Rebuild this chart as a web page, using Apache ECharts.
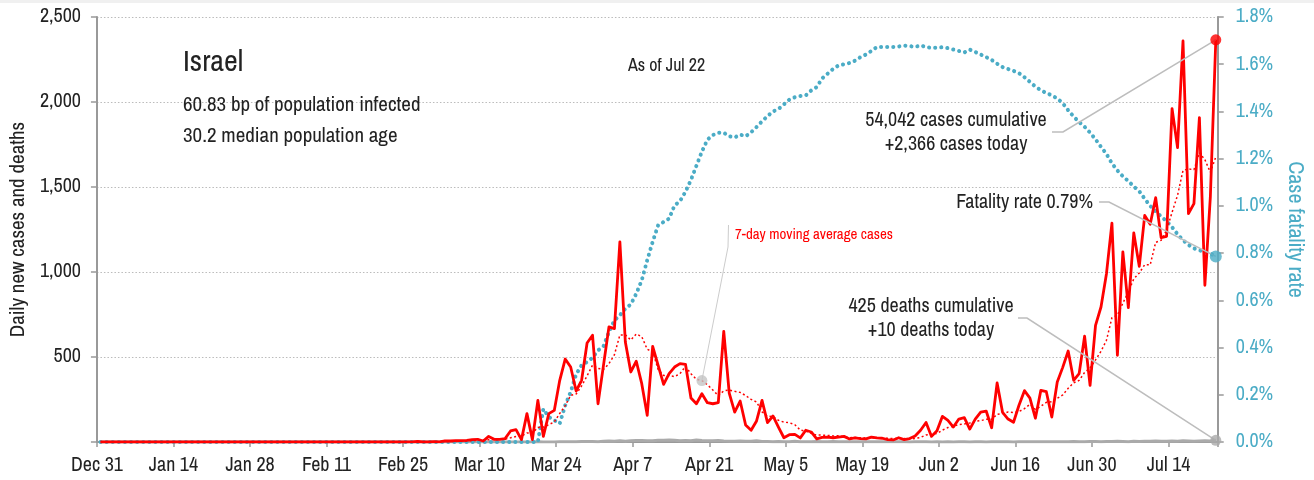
<!DOCTYPE html>
<html>
<head>
<meta charset="utf-8">
<title>Israel: daily new cases, deaths and case fatality rate</title>
<script src="https://cdn.jsdelivr.net/npm/echarts@6/dist/echarts.min.js"></script>
<style>
  html, body { margin: 0; padding: 0; background: #ffffff; }
  #chart { width: 1314px; height: 480px; }
</style>
</head>
<body>
<div id="chart"></div>
<script>
// ---- data: one entry per day, Dec 31 (index 0) to Jul 22 (index 204) ----
const tickLabels = ['Dec 31', 'Jan 14', 'Jan 28', 'Feb 11', 'Feb 25', 'Mar 10', 'Mar 24',
  'Apr 7', 'Apr 21', 'May 5', 'May 19', 'Jun 2', 'Jun 16', 'Jun 30', 'Jul 14'];

const dailyCases = [
  0,0,0,0,0,0,0,0,0,0, 0,0,0,0,0,0,0,0,0,0, 0,0,0,0,0,0,0,0,0,0,
  0,0,0,0,0,0,0,0,0,0, 0,0,0,0,0,0,0,0,0,0, 0,0,
  1,0,1,0,0,1,3,0,0,2,1,
  6,6,8,8,10,14,16,6,33,16,16,20,65,73,14,167,14,
  245,33,167,186,363,488,441,300,363,582,628,225,
  451,677,667,1177,588,412,475,343,157,563,451,339,402,441,461,457,259,225,284,231,225,231,651,288,176,241,100,
  69,124,245,114,153,88,25,43,45,24,69,59,18,27,29,25,29,33,18,24,20,18,29,24,22,14,12,25,14,20,35,
  69,115,33,66,151,127,88,135,143,76,135,176,182,84,347,174,135,116,216,302,258,140,304,296,147,353,439,
  535,363,402,622,333,686,794,990,1288,510,1118,790,1230,1033,1333,1281,1437,1202,1210,1961,1732,2359,1343,1402,1908,922,1440,2366
];

const dailyDeaths = [
  0,0,0,0,0,0,0,0,0,0, 0,0,0,0,0,0,0,0,0,0, 0,0,0,0,0,0,0,0,0,0,
  0,0,0,0,0,0,0,0,0,0, 0,0,0,0,0,0,0,0,0,0, 0,0,0,0,0,0,0,0,0,0,
  0,0,0,0,0,0,0,0,0,0, 0,0,0,0,0,0,0,0,0,0,
  1,0,0,0,1,1,2,1,3,3,3,1,
  4,6,4,8,5,7,9,9,8,7,10,11,12,10,8,9,7,12,9,8,7,9,6,5,5,6,4,5,7,3,
  3,2,3,2,2,4,2,2,1,3,1,2,3,1,2,1,2,1,2,1,1,1,2,1,1,1,0,1,1,1,0,
  1,0,1,0,1,1,0,2,1,0,1,1,2,1,0,1,1,2,1,1,2,1,2,2,1,3,2,2,3,3,
  2,3,3,4,3,2,4,3,5,4,6,4,5,6,5,7,6,4,6,7,6,10
];

// cumulative deaths / cumulative cases, in percent
const fatalityRate = [
  0,0,0,0,0,0,0,0,0,0, 0,0,0,0,0,0,0,0,0,0, 0,0,0,0,0,0,0,0,0,0,
  0,0,0,0,0,0,0,0,0,0, 0,0,0,0,0,0,0,0,0,0, 0,0,0,0,0,0,0,0,0,0,
  0,0,0,0,0,0,0,0,0,0, 0,0,0,0,0,0,0,0,0,0, 0,
  0.14,0.106,0.092,0.078,0.155,0.212,0.287,0.325,0.339,0.357,0.388,
  0.405,0.466,0.515,0.537,0.565,0.583,0.628,0.685,0.77,0.848,0.918,0.932,0.946,1.002,
  1.02,1.06,1.11,1.17,1.23,1.28,1.30,1.31,1.31,1.295,1.29,1.302,1.295,1.312,1.334,
  1.358,1.38,1.40,1.41,1.43,1.45,1.46,1.465,1.468,1.489,1.503,1.54,1.56,1.58,1.595,
  1.60,1.605,1.615,1.63,1.641,1.656,1.673,1.673,1.673,1.673,1.675,1.679,1.677,1.673,
  1.68,1.672,1.67,1.67,1.672,1.668,1.662,1.656,1.65,1.662,1.652,1.641,1.63,1.618,1.602,
  1.588,1.58,1.572,1.562,1.545,1.525,1.505,1.49,1.478,1.468,1.455,1.435,1.405,1.378,1.355,
  1.335,1.31,1.282,1.25,1.22,1.18,1.15,1.125,1.105,1.082,1.062,1.03,1.0,0.977,0.955,
  0.935,0.91,0.88,0.855,0.835,0.82,0.812,0.805,0.798,0.786
];

// reported running totals as of the last day
const cumulativeCases = 54042;
const cumulativeDeaths = 425;

// ---- layout & style ----
const FONT = "'Archivo Narrow', 'Roboto Condensed', 'Open Sans Condensed', sans-serif";
const RED = '#ff0000';
const TEAL = '#4bacc6';
const GREY = '#aaaaaa';
const AXIS = '#999999';
const INK = '#222222';
const DAY_SHIFT = 0.65;       // reports sit late in their day on the time scale
const LAST_DAY = 205;         // axis runs to the end of Jul 22
const MA_MARK_DAY = 110;      // where the moving-average callout points

// trailing 7-day mean of the daily case counts
const movingAvg = dailyCases.map((_, i) => {
  const from = Math.max(0, i - 6);
  const win = dailyCases.slice(from, i + 1);
  return win.reduce((a, b) => a + b, 0) / win.length;
});

const pairs = arr => arr.map((v, i) => [i + DAY_SHIFT, v]);
const last = dailyCases.length - 1;

const chart = echarts.init(document.getElementById('chart'), null, { renderer: 'canvas' });

const option = {
  animation: false,
  backgroundColor: '#ffffff',
  textStyle: { fontFamily: FONT },
  grid: { left: 94, right: 91, top: 17, bottom: 38, containLabel: false },
  xAxis: {
    type: 'value',
    min: 0,
    max: LAST_DAY,
    interval: 14,
    axisLine: { show: true, lineStyle: { color: AXIS, width: 2 } },
    axisTick: { show: true, length: 5, lineStyle: { color: AXIS, width: 1.5 } },
    splitLine: { show: false },
    axisLabel: {
      color: INK, fontFamily: FONT, fontSize: 20, margin: 14,
      formatter: v => (v % 14 === 0 && tickLabels[v / 14]) || ''
    }
  },
  yAxis: [
    {
      type: 'value',
      min: 0, max: 2500, interval: 500,
      name: 'Daily new cases and deaths',
      nameLocation: 'middle',
      nameGap: 66,
      nameRotate: 90,
      nameTextStyle: { color: INK, fontFamily: FONT, fontSize: 21 },
      axisLine: { show: true, lineStyle: { color: AXIS, width: 2 } },
      axisTick: { show: true, length: 6, lineStyle: { color: AXIS, width: 1.5 } },
      splitLine: { show: true, lineStyle: { color: '#bbbbbb', type: [1.5, 2], width: 1 } },
      axisLabel: {
        color: INK, fontFamily: FONT, fontSize: 20, margin: 16,
        formatter: v => (v === 0 ? '' : v.toLocaleString('en-US'))
      }
    },
    {
      type: 'value',
      min: 0, max: 1.8, interval: 0.2,
      position: 'right',
      name: 'Case fatality rate',
      nameLocation: 'middle',
      nameGap: 62,
      nameRotate: -90,
      nameTextStyle: { color: TEAL, fontFamily: FONT, fontSize: 22 },
      axisLine: { show: true, lineStyle: { color: AXIS, width: 2 } },
      axisTick: { show: true, length: 6, lineStyle: { color: AXIS, width: 1.5 } },
      splitLine: { show: false },
      axisLabel: {
        color: TEAL, fontFamily: FONT, fontSize: 20, margin: 18,
        formatter: v => v.toFixed(1) + '%'
      }
    }
  ],
  series: [
    {
      name: 'Daily deaths',
      type: 'line',
      data: pairs(dailyDeaths),
      showSymbol: false,
      lineStyle: { color: GREY, width: 3 },
      z: 2
    },
    {
      name: 'Case fatality rate',
      type: 'line',
      yAxisIndex: 1,
      data: pairs(fatalityRate),
      showSymbol: false,
      lineStyle: { color: TEAL, width: 4, type: [0.1, 6], cap: 'round' },
      z: 3
    },
    {
      name: '7-day moving average cases',
      type: 'line',
      data: pairs(movingAvg),
      showSymbol: false,
      lineStyle: { color: RED, width: 1.5, type: [2, 2.5] },
      z: 4
    },
    {
      name: 'Daily new cases',
      type: 'line',
      data: pairs(dailyCases),
      showSymbol: false,
      lineStyle: { color: RED, width: 2.8, join: 'round' },
      z: 5
    },
    {
      name: 'Latest cases',
      type: 'scatter',
      data: [[last + DAY_SHIFT, dailyCases[last]]],
      symbolSize: 11,
      itemStyle: { color: RED },
      z: 7
    },
    {
      name: 'Latest deaths',
      type: 'scatter',
      data: [[last + DAY_SHIFT, dailyDeaths[last]]],
      symbolSize: 11,
      itemStyle: { color: GREY },
      z: 7
    },
    {
      name: 'Latest fatality rate',
      type: 'scatter',
      yAxisIndex: 1,
      data: [[last + DAY_SHIFT, fatalityRate[last]]],
      symbolSize: 12,
      itemStyle: { color: TEAL },
      z: 7
    },
    {
      name: 'Moving average callout',
      type: 'scatter',
      data: [[MA_MARK_DAY + DAY_SHIFT, movingAvg[MA_MARK_DAY]]],
      symbolSize: 11,
      itemStyle: { color: '#c4c4c4' },
      z: 7
    }
  ]
};

chart.setOption(option);

// ---- annotations: text blocks with leader lines to the plotted points ----
const toLeft = p => chart.convertToPixel({ xAxisIndex: 0, yAxisIndex: 0 }, p);
const toRight = p => chart.convertToPixel({ xAxisIndex: 0, yAxisIndex: 1 }, p);

const casesPt = toLeft([last + DAY_SHIFT, dailyCases[last]]);
const deathsPt = toLeft([last + DAY_SHIFT, dailyDeaths[last]]);
const cfrPt = toRight([last + DAY_SHIFT, fatalityRate[last]]);
const maPt = toLeft([MA_MARK_DAY + DAY_SHIFT, movingAvg[MA_MARK_DAY]]);

function txt(x, y, text, size, extra) {
  return {
    type: 'text', x: x, y: y, z: 20, silent: true,
    style: Object.assign({
      text: text, fill: INK, font: size + 'px ' + FONT,
      textAlign: 'left', textVerticalAlign: 'middle'
    }, extra || {})
  };
}
function leader(points, color, width) {
  return {
    type: 'polyline', z: 6, silent: true,
    shape: { points: points },
    style: { stroke: color, lineWidth: width, fill: null }
  };
}

const fmt = n => n.toLocaleString('en-US');

const graphics = [
  { type: 'rect', z: 30, silent: true, shape: { x: 0, y: 0, width: 1314, height: 3 }, style: { fill: '#f0f0f0' } },
  txt(183, 63, 'Israel', 30),
  txt(183, 105, '60.83 bp of population infected', 21),
  txt(183, 136, '30.2 median population age', 21),
  txt(628, 66, 'As of Jul 22', 18),

  txt(956, 121, fmt(cumulativeCases) + ' cases cumulative', 20, { textAlign: 'center' }),
  txt(956, 145, '+' + fmt(dailyCases[last]) + ' cases today', 20, { textAlign: 'center' }),
  leader([[1052, 132], [1063, 132], casesPt], '#bdbdbd', 1.5),

  txt(1093, 203, 'Fatality rate ' + fatalityRate[last].toFixed(2) + '%', 20, { textAlign: 'right' }),
  leader([[1099, 202], [1109, 202], cfrPt], '#bdbdbd', 1.5),

  txt(931, 307, cumulativeDeaths + ' deaths cumulative', 20, { textAlign: 'center' }),
  txt(931, 331, '+' + dailyDeaths[last] + ' deaths today', 20, { textAlign: 'center' }),
  leader([[1018, 318], [1027, 318], deathsPt], '#bdbdbd', 1.5),

  txt(735, 235, '7-day moving average cases', 15, { fill: RED }),
  leader([[728.5, 225], [728, 247], maPt], '#cccccc', 1)
];

chart.setOption({ graphic: graphics });
</script>
</body>
</html>
